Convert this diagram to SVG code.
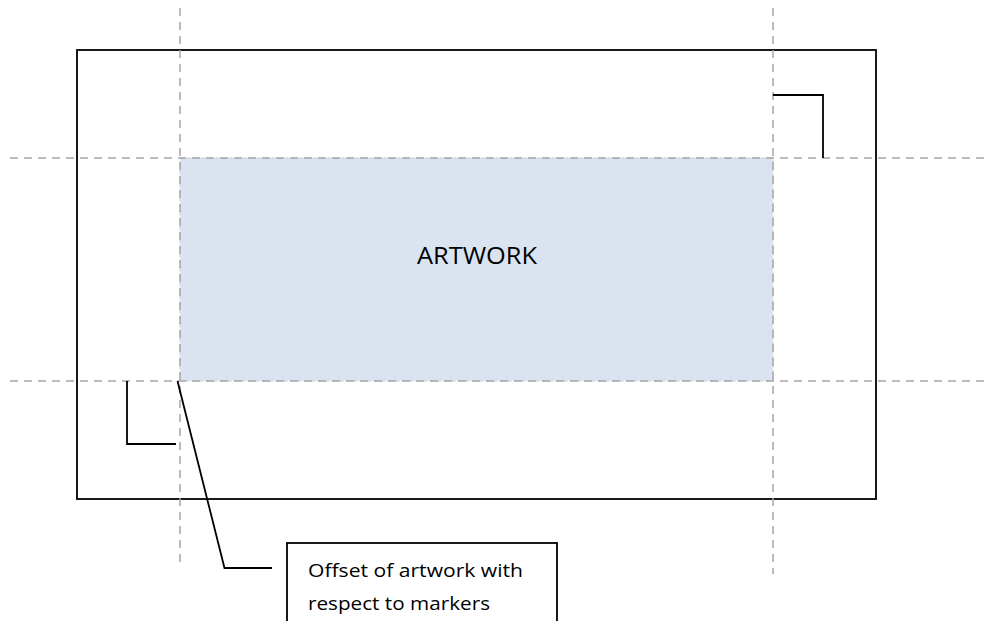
<svg xmlns="http://www.w3.org/2000/svg" width="989" height="621" viewBox="0 0 989 621">
  <style>
    .guide { stroke: #A6A6A6; stroke-width: 1.5; stroke-dasharray: 8 6; fill: none; }
    .solid { stroke: #000000; stroke-width: 1.8; fill: none; }
    .label { font-family: "Open Sans", "Liberation Sans", sans-serif; fill: #000000; }
  </style>
  <rect width="989" height="621" fill="#FFFFFF"/>
  <g id="sheet">
    <rect x="77" y="50" width="799" height="449" class="solid" stroke-width="2"/>
  </g>
  <g id="artwork">
    <rect x="180" y="158" width="593" height="223" fill="#DAE3F0" stroke="#C8CED8" stroke-width="1" stroke-dasharray="4 3"/>
    <text x="477" y="263.5" text-anchor="middle" class="label" font-size="24" textLength="120" lengthAdjust="spacingAndGlyphs">ARTWORK</text>
  </g>
  <g id="guides">
    <line x1="180" y1="8" x2="180" y2="562" class="guide"/>
    <line x1="773" y1="8" x2="773" y2="574" class="guide"/>
    <line x1="10" y1="158" x2="985" y2="158" class="guide"/>
    <line x1="10" y1="381" x2="985" y2="381" class="guide"/>
  </g>
  <g id="marker-top-right">
    <polyline points="773,95 823,95 823,158" class="solid"/>
  </g>
  <g id="marker-bottom-left">
    <polyline points="127,381 127,444 176,444" class="solid"/>
  </g>
  <g id="callout">
    <rect x="287" y="543" width="270" height="90" fill="#FFFFFF" class="solid"/>
    <text x="308" y="577" class="label" font-size="19" textLength="215" lengthAdjust="spacingAndGlyphs">Offset of artwork with</text>
    <text x="308" y="610" class="label" font-size="19" textLength="182" lengthAdjust="spacingAndGlyphs">respect to markers</text>
  </g>
  <g id="connectors">
    <polyline points="177.5,381 224.5,568 272,568" class="solid"/>
  </g>
</svg>
